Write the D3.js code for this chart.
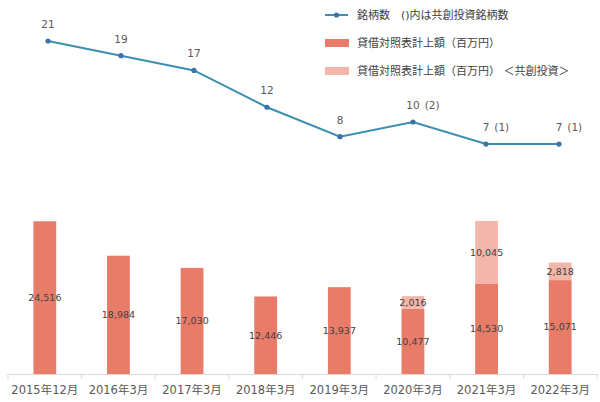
<!DOCTYPE html>
<html>
<head>
<meta charset="utf-8">
<script src="https://cdn.jsdelivr.net/npm/d3@7"></script>
<style>
  body { margin: 0; background: #fff; }
  text { font-family: "DejaVu Sans", "Noto Sans CJK JP", sans-serif; fill: #595959; }
</style>
</head>
<body>
<svg id="canvas" width="600" height="402"></svg>
<script>
let categories = ["2015年12月","2016年3月","2017年3月","2018年3月","2019年3月","2020年3月","2021年3月","2022年3月"]
let bookValue = [24516, 18984, 17030, 12446, 13937, 10477, 14530, 15071]
let coInvestValue = [0, 0, 0, 0, 0, 2016, 10045, 2818]
let stockCount = [21, 19, 17, 12, 8, 10, 7, 7]
let coInvestCount = [null, null, null, null, null, 2, 1, 1]
let legendLabels = ["銘柄数　()内は共創投資銘柄数", "貸借対照表計上額（百万円）", "貸借対照表計上額（百万円） ＜共創投資＞"]

let mainColor = "#E97C68"
let lightColor = "#F2B7AA"
let lineColor = "#3C8FB1"
let markerColor = "#3D74A8"

let canvas = d3.select('#canvas')

let x = d3.scaleBand().domain(categories).range([8, 597]).paddingInner(0.69).paddingOuter(0.345)
let xLine = d3.scalePoint().domain(categories).range([48, 559])
let yBar = d3.scaleLinear().domain([0, 60000]).range([374, 0.2])
let yLine = d3.scaleLinear().domain([0, 21]).range([195.6, 41])

// axis
let axis = d3.axisBottom(x).tickSize(0).tickPadding(12)
let ax = canvas.append('g').attr('transform', 'translate(0,374)').call(axis)
ax.select('.domain').attr('stroke', '#D9D9D9')
ax.selectAll('text').style('font-size', '11.5px').attr('fill', '#595959')
let step = x.step()
ax.selectAll('.sep').data(d3.range(categories.length + 1)).enter()
  .append('line')
  .attr('x1', i => 8 + i * step).attr('x2', i => 8 + i * step)
  .attr('y1', 0).attr('y2', 5)
  .attr('stroke', '#D9D9D9')

// bars
let bars = canvas.append('g')
bars.selectAll('.main').data(categories).enter()
  .append('rect')
  .attr('x', d => x(d))
  .attr('width', x.bandwidth())
  .attr('y', (d, i) => yBar(bookValue[i]))
  .attr('height', (d, i) => yBar(0) - yBar(bookValue[i]))
  .attr('fill', mainColor)
bars.selectAll('.light').data(categories.filter((d, i) => coInvestValue[i] > 0)).enter()
  .append('rect')
  .attr('x', d => x(d))
  .attr('width', x.bandwidth())
  .attr('y', d => { let i = categories.indexOf(d); return yBar(bookValue[i] + coInvestValue[i]) })
  .attr('height', d => { let i = categories.indexOf(d); return yBar(bookValue[i]) - yBar(bookValue[i] + coInvestValue[i]) })
  .attr('fill', lightColor)

let fmt = d3.format(',')
bars.selectAll('.lbl').data(categories).enter()
  .append('text')
  .attr('x', d => x(d) + x.bandwidth() / 2)
  .attr('y', (d, i) => (yBar(0) + yBar(bookValue[i])) / 2)
  .attr('dy', '0.35em')
  .attr('text-anchor', 'middle')
  .style('font-size', '9.5px')
  .style('fill', '#404040')
  .text((d, i) => fmt(bookValue[i]))
bars.selectAll('.lbl2').data(categories.filter((d, i) => coInvestValue[i] > 0)).enter()
  .append('text')
  .attr('x', d => x(d) + x.bandwidth() / 2)
  .attr('y', d => { let i = categories.indexOf(d); return (yBar(bookValue[i]) + yBar(bookValue[i] + coInvestValue[i])) / 2 })
  .attr('dy', '0.35em')
  .attr('text-anchor', 'middle')
  .style('font-size', '9.5px')
  .style('fill', '#404040')
  .text(d => fmt(coInvestValue[categories.indexOf(d)]))

// line
let line = d3.line().x(d => xLine(d)).y((d, i) => yLine(stockCount[i]))
canvas.append('path')
  .attr('d', line(categories))
  .attr('fill', 'none')
  .attr('stroke', lineColor)
  .attr('stroke-width', 2)
canvas.selectAll('.pt').data(categories).enter()
  .append('circle')
  .attr('cx', d => xLine(d))
  .attr('cy', (d, i) => yLine(stockCount[i]))
  .attr('r', 2.6)
  .attr('fill', markerColor)

let lbls = canvas.selectAll('.cnt').data(categories).enter()
  .append('g')
  .attr('transform', (d, i) => `translate(${xLine(d)},${yLine(stockCount[i]) - 13})`)
lbls.append('text')
  .attr('text-anchor', 'middle')
  .style('font-size', '10.5px')
  .text((d, i) => stockCount[i])
  .each(function (d, i) {
    if (coInvestCount[i] != null) {
      let w = this.getComputedTextLength()
      d3.select(this.parentNode).append('text')
        .attr('x', w / 2 + 5)
        .style('font-size', '10.5px')
        .text('(' + coInvestCount[i] + ')')
    }
  })

// legend
let lg = canvas.append('g')
let lgY = [15, 43, 71]
lg.append('line').attr('x1', 325).attr('x2', 348).attr('y1', lgY[0]).attr('y2', lgY[0])
  .attr('stroke', lineColor).attr('stroke-width', 2)
lg.append('circle').attr('cx', 336.5).attr('cy', lgY[0]).attr('r', 2.6).attr('fill', markerColor)
lg.append('rect').attr('x', 325).attr('y', lgY[1] - 4).attr('width', 24).attr('height', 8).attr('fill', mainColor)
lg.append('rect').attr('x', 325).attr('y', lgY[2] - 4).attr('width', 24).attr('height', 8).attr('fill', lightColor)
lg.selectAll('.lt').data(legendLabels).enter()
  .append('text')
  .attr('x', 357)
  .attr('y', (d, i) => lgY[i])
  .attr('dy', '0.35em')
  .style('font-size', '11px')
  .style('fill', '#404040')
  .text(d => d)
</script>
</body>
</html>
